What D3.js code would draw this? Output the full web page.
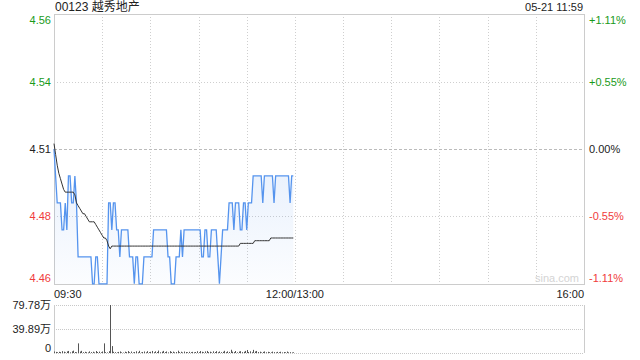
<html>
<head>
<meta charset="utf-8">
<script src="https://d3js.org/d3.v7.min.js"></script>
<style>
  body { margin: 0; background: #fff; }
  text { font-family: "Liberation Sans", Arial, "Noto Sans CJK SC", sans-serif; }
</style>
</head>
<body>
<svg class="chart" width="640" height="360"></svg>
<script>
// chart data
var title = "00123 越秀地产";
var stamp = "05-21 11:59";
var preClose = 4.51;
var pctTicks = [1.11, 0.55, 0, -0.55, -1.11];
var priceLabels = ["4.56", "4.54", "4.51", "4.48", "4.46"];
var pctLabels = ["+1.11%", "+0.55%", "0.00%", "-0.55%", "-1.11%"];
var timeLabels = ["09:30", "12:00/13:00", "16:00"];
var volTicks = [0, 39.89, 79.78];
var volLabels = ["0", "39.89万", "79.78万"];

// one value per minute from 09:30
var price = [
  4.51, 4.50, 4.49, 4.49, 4.49, 4.48, 4.48, 4.49, 4.48, 4.50,
  4.50, 4.49, 4.49, 4.50, 4.49, 4.47, 4.47, 4.47, 4.47, 4.47,
  4.47, 4.47, 4.47, 4.47, 4.46, 4.46, 4.47, 4.47, 4.46, 4.46,
  4.46, 4.46, 4.46, 4.46, 4.49, 4.49, 4.48, 4.49, 4.49, 4.48,
  4.48, 4.47, 4.48, 4.48, 4.48, 4.48, 4.48, 4.47, 4.47, 4.47,
  4.46, 4.47, 4.47, 4.46, 4.46, 4.46, 4.47, 4.47, 4.47, 4.47,
  4.47, 4.47, 4.48, 4.48, 4.48, 4.48, 4.48, 4.48, 4.48, 4.48,
  4.48, 4.47, 4.47, 4.46, 4.46, 4.46, 4.47, 4.47, 4.47, 4.48,
  4.47, 4.48, 4.48, 4.48, 4.48, 4.48, 4.48, 4.48, 4.48, 4.48,
  4.48, 4.48, 4.47, 4.47, 4.48, 4.48, 4.47, 4.47, 4.48, 4.48,
  4.48, 4.48, 4.47, 4.46, 4.47, 4.48, 4.48, 4.48, 4.48, 4.49,
  4.49, 4.49, 4.48, 4.49, 4.49, 4.49, 4.48, 4.48, 4.49, 4.49,
  4.48, 4.49, 4.49, 4.49, 4.50, 4.50, 4.50, 4.50, 4.50, 4.50,
  4.49, 4.50, 4.50, 4.50, 4.50, 4.50, 4.50, 4.49, 4.50, 4.50,
  4.50, 4.50, 4.50, 4.50, 4.50, 4.50, 4.50, 4.49, 4.50, 4.50
];
var avgPrice = [
  4.512, 4.508, 4.504, 4.501, 4.499, 4.497, 4.495, 4.494, 4.494, 4.494,
  4.494, 4.494, 4.494, 4.493, 4.490, 4.489, 4.488, 4.487, 4.486, 4.486,
  4.485, 4.484, 4.483, 4.483, 4.483, 4.483, 4.482, 4.481, 4.480, 4.479,
  4.478, 4.477, 4.477, 4.476, 4.474, 4.473, 4.474, 4.474, 4.474, 4.474,
  4.474, 4.474, 4.474, 4.474, 4.474, 4.474, 4.474, 4.474, 4.474, 4.474,
  4.474, 4.474, 4.474, 4.474, 4.474, 4.474, 4.474, 4.474, 4.474, 4.474,
  4.474, 4.474, 4.474, 4.474, 4.474, 4.474, 4.474, 4.474, 4.474, 4.474,
  4.474, 4.474, 4.474, 4.474, 4.474, 4.474, 4.474, 4.474, 4.474, 4.474,
  4.474, 4.474, 4.474, 4.474, 4.474, 4.474, 4.474, 4.474, 4.474, 4.474,
  4.474, 4.474, 4.474, 4.474, 4.474, 4.474, 4.474, 4.474, 4.474, 4.474,
  4.474, 4.474, 4.474, 4.474, 4.474, 4.474, 4.474, 4.474, 4.474, 4.474,
  4.474, 4.474, 4.474, 4.474, 4.474, 4.474, 4.475, 4.475, 4.475, 4.475,
  4.475, 4.475, 4.475, 4.475, 4.475, 4.476, 4.476, 4.476, 4.476, 4.476,
  4.476, 4.476, 4.476, 4.476, 4.476, 4.477, 4.477, 4.477, 4.477, 4.477,
  4.477, 4.477, 4.477, 4.477, 4.477, 4.477, 4.477, 4.477, 4.477, 4.477
];
// volume in 万
var volume = [
  2.5, 1.8, 1.2, 2.0, 1.5, 3.1, 2.2, 1.0, 2.6, 3.4,
  1.1, 2.8, 3.9, 1.6, 1.2, 16.0, 2.4, 3.6, 1.4, 2.0,
  1.3, 0.9, 2.7, 1.5, 2.1, 1.0, 3.3, 1.6, 2.3, 1.2,
  2.5, 16.0, 1.4, 1.0, 3.0, 79.78, 11.5, 2.0, 1.4, 1.0,
  1.8, 2.6, 1.1, 0.8, 2.2, 1.5, 3.2, 1.3, 2.4, 1.0,
  1.6, 2.9, 1.2, 3.6, 0.9, 1.7, 2.5, 1.1, 3.0, 1.4,
  2.0, 3.4, 1.3, 2.8, 1.6, 4.0, 1.2, 2.2, 3.5, 1.5,
  2.6, 1.0, 3.1, 1.8, 2.3, 1.1, 1.6, 3.8, 1.4, 2.1,
  1.0, 2.4, 1.6, 1.2, 2.0, 1.4, 1.9, 1.1, 1.7, 2.9,
  1.3, 3.2, 2.0, 1.2, 2.6, 3.4, 1.5, 2.2, 1.0, 2.8,
  1.6, 3.1, 1.2, 2.5, 1.4, 2.0, 3.6, 1.3, 2.7, 1.8,
  5.4, 2.2, 1.5, 3.3, 1.1, 2.4, 3.0, 1.4, 2.0, 3.5,
  5.0, 1.6, 2.8, 1.2, 5.2, 2.5, 3.4, 1.6, 2.2, 1.0,
  1.8, 2.6, 1.2, 2.0, 1.4, 1.1, 2.3, 1.5, 1.0, 1.9,
  1.3, 2.1, 1.0, 1.6, 1.2, 2.4, 1.1, 1.4, 0.9, 1.2
];

// layout
var pLeft = 54, pRight = 584, pTop = 14, pBottom = 284;
var vTop = 305, vBottom = 353;

var svg = d3.select(".chart");

var x = d3.scaleLinear().domain([0, 330]).range([pLeft, pRight]);
var yPct = d3.scaleLinear().domain([-1.11, 1.11]).range([pBottom, pTop]);
var y = d3.scaleLinear()
  .domain([preClose * (1 - 0.0111), preClose * (1 + 0.0111)])
  .range([pBottom, pTop]);
var yVol = d3.scaleLinear().domain([0, 79.78]).range([vBottom, vTop]);

function pctColor(p) {
  if (p > 0) return "#1a9a1a";
  if (p < 0) return "#f03c3c";
  return "#222";
}

// vertical grid every 30 minutes
var gx = d3.range(30, 330, 30);
svg.append("g").selectAll("line").data(gx).enter()
  .append("line")
    .attr("x1", function(d) { return Math.round(x(d)) + 0.5; })
    .attr("x2", function(d) { return Math.round(x(d)) + 0.5; })
    .attr("y1", pTop)
    .attr("y2", pBottom)
    .attr("stroke", "#cfcfcf")
    .attr("stroke-dasharray", "1,2");

// horizontal grid
svg.append("g").selectAll("line").data([0.55, 0, -0.55]).enter()
  .append("line")
    .attr("x1", pLeft)
    .attr("x2", pRight)
    .attr("y1", function(d) { return Math.round(yPct(d)) + 0.5; })
    .attr("y2", function(d) { return Math.round(yPct(d)) + 0.5; })
    .attr("stroke", function(d) { return d == 0 ? "#bbb" : "#cfcfcf"; })
    .attr("stroke-dasharray", function(d) { return d == 0 ? "3,2" : "1,2"; });

// frame
svg.append("rect")
  .attr("x", pLeft + 0.5).attr("y", pTop + 0.5)
  .attr("width", pRight - pLeft).attr("height", pBottom - pTop)
  .attr("fill", "none").attr("stroke", "#cccccc");

// gradient under price line
var grad = svg.append("defs").append("linearGradient")
  .attr("id", "fillGrad").attr("gradientUnits", "userSpaceOnUse")
  .attr("x1", 0).attr("x2", 0)
  .attr("y1", y(d3.max(price))).attr("y2", pBottom);
grad.append("stop").attr("offset", "0%").attr("stop-color", "#4f8fec").attr("stop-opacity", 0.14);
grad.append("stop").attr("offset", "100%").attr("stop-color", "#4f8fec").attr("stop-opacity", 0.02);

svg.append("path")
  .datum(price)
  .attr("fill", "url(#fillGrad)")
  .attr("d", d3.area()
    .x(function(d, i) { return x(i); })
    .y0(pBottom)
    .y1(function(d) { return y(d); }));

// price line
svg.append("path")
  .datum(price)
  .attr("fill", "none")
  .attr("stroke", "#5594ee")
  .attr("stroke-width", 1.3)
  .attr("d", d3.line()
    .x(function(d, i) { return x(i); })
    .y(function(d) { return y(d); }));

// average line
svg.append("path")
  .datum(avgPrice)
  .attr("fill", "none")
  .attr("stroke", "#333")
  .attr("stroke-width", 1)
  .attr("d", d3.line()
    .x(function(d, i) { return x(i); })
    .y(function(d) { return y(d); }));

function labelY(d, i) {
  var v = yPct(d);
  if (i == 0) v += 6;
  if (i == pctTicks.length - 1) v -= 6;
  return v;
}

// left price labels
svg.append("g").selectAll("text").data(pctTicks).enter()
  .append("text")
    .attr("x", 51)
    .attr("y", labelY)
    .attr("dy", "0.35em")
    .attr("text-anchor", "end")
    .attr("font-size", 11)
    .attr("fill", function(d) { return pctColor(d); })
    .text(function(d, i) { return priceLabels[i]; });

// right percent labels
svg.append("g").selectAll("text").data(pctTicks).enter()
  .append("text")
    .attr("x", 589)
    .attr("y", labelY)
    .attr("dy", "0.35em")
    .attr("font-size", 11)
    .attr("fill", function(d) { return pctColor(d); })
    .text(function(d, i) { return pctLabels[i]; });

// title and time stamp
svg.append("text").attr("x", 55).attr("y", 7).attr("dy", "0.35em")
  .attr("font-size", 12).attr("fill", "#222").text(title);
svg.append("text").attr("x", 583).attr("y", 7).attr("dy", "0.35em")
  .attr("text-anchor", "end").attr("font-size", 11).attr("fill", "#222").text(stamp);

// time labels
svg.append("g").selectAll("text").data([0, 150, 330]).enter()
  .append("text")
    .attr("x", function(d) { return x(d); })
    .attr("y", 294)
    .attr("dy", "0.35em")
    .attr("text-anchor", function(d, i) { return ["start", "middle", "end"][i]; })
    .attr("font-size", 11)
    .attr("fill", "#222")
    .text(function(d, i) { return timeLabels[i]; });

// watermark
svg.append("text").attr("x", 579).attr("y", 278).attr("dy", "0.35em")
  .attr("text-anchor", "end").attr("font-size", 11).attr("fill", "#d4d4d4").text("sina.com");

// volume grid
svg.append("g").selectAll("line").data(volTicks).enter()
  .append("line")
    .attr("x1", pLeft)
    .attr("x2", pRight)
    .attr("y1", function(d) { return Math.round(yVol(d)) + 0.5; })
    .attr("y2", function(d) { return Math.round(yVol(d)) + 0.5; })
    .attr("stroke", "#c8c8c8")
    .attr("stroke-dasharray", "1,1");
svg.append("line").attr("x1", pRight + 0.5).attr("x2", pRight + 0.5)
  .attr("y1", vTop).attr("y2", vBottom).attr("stroke", "#ccc");
svg.append("line").attr("x1", pLeft + 0.5).attr("x2", pLeft + 0.5)
  .attr("y1", vTop).attr("y2", vBottom).attr("stroke", "#ccc");

// volume bars
svg.append("g").selectAll("line").data(volume).enter()
  .append("line")
    .attr("x1", function(d, i) { return Math.round(x(i)) + 0.5; })
    .attr("x2", function(d, i) { return Math.round(x(i)) + 0.5; })
    .attr("y1", vBottom)
    .attr("y2", function(d) { return yVol(d); })
    .attr("stroke", "#555")
    .attr("stroke-width", 1);

// volume labels
svg.append("g").selectAll("text").data(volTicks).enter()
  .append("text")
    .attr("x", 51)
    .attr("y", function(d, i) { return i == 0 ? yVol(d) - 5 : yVol(d); })
    .attr("dy", "0.35em")
    .attr("text-anchor", "end")
    .attr("font-size", 11)
    .attr("fill", "#222")
    .text(function(d, i) { return volLabels[i]; });
</script>
</body>
</html>
